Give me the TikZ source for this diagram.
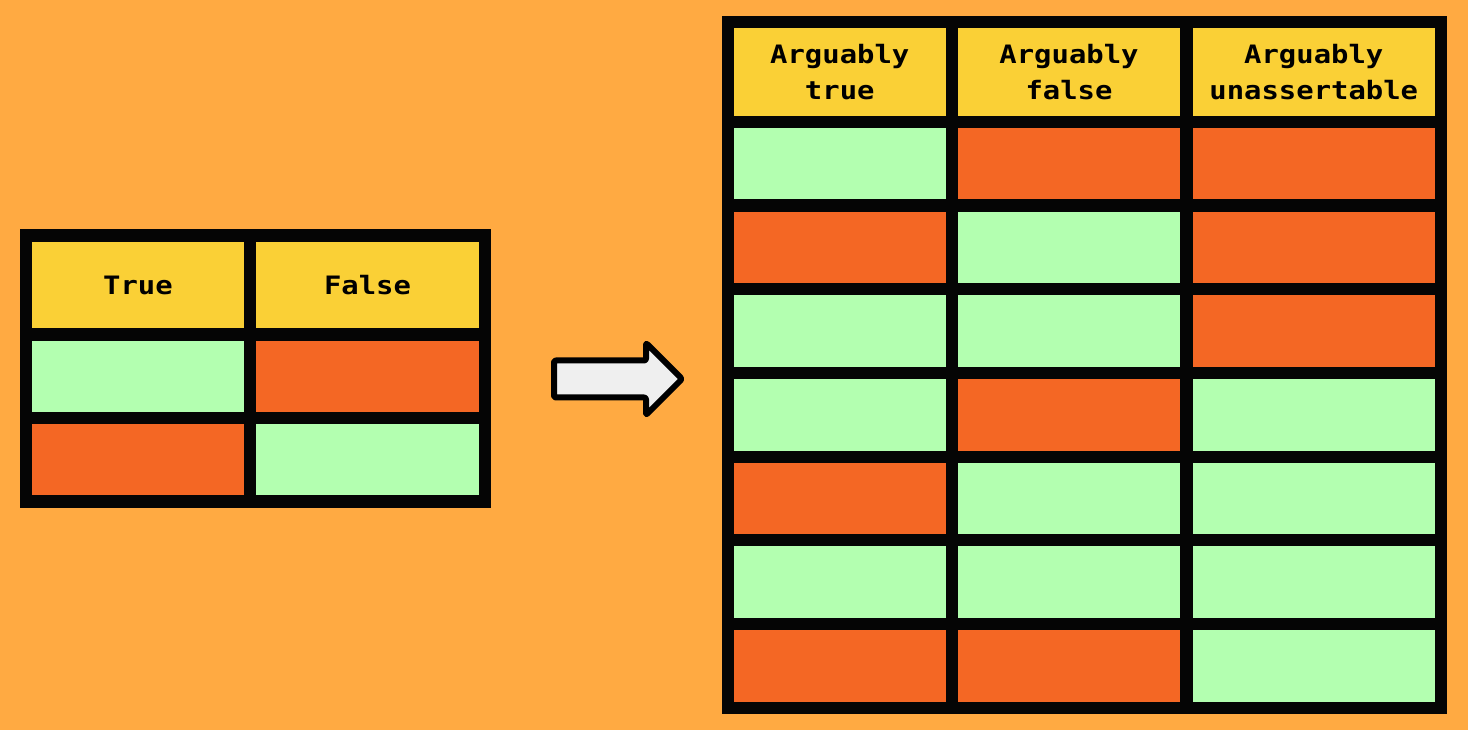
\documentclass[tikz,border=0pt]{standalone}
\usepackage{fontspec}
\newfontfamily\hdrfont[FakeStretch=1.14]{DejaVu Sans Mono Bold}
\definecolor{bgorange}{HTML}{FFAA42}
\definecolor{hdryellow}{HTML}{FAD036}
\definecolor{okgreen}{HTML}{B3FFB0}
\definecolor{badred}{HTML}{F46724}
\definecolor{arrowgray}{HTML}{EFEFEF}
\definecolor{gridblack}{HTML}{050505}
\newcommand\mkcell[7]{\node[cellbox, fill=#6, minimum width={(#4-#2)*0.75pt}, minimum height={(#5-#3)*0.75pt}] (#1) at ({(#2+#4)/2},{(#3+#5)/2}) {#7};}
\begin{document}
\begin{tikzpicture}[x=0.75pt,y=-0.75pt,
  cellbox/.style={inner sep=0pt, outer sep=0pt, draw=none, align=center,
    font=\hdrfont\fontsize{19}{27}\selectfont, text=black},
  framebox/.style={fill=gridblack, draw=none},
  bigarrow/.style={draw=black, fill=arrowgray, line width=4.5pt, line join=round, rounded corners=1.5pt}]
\fill[bgorange] (0,0) rectangle (1468,730);
\useasboundingbox (0,0) rectangle (1468,730);
% left table
\fill[framebox] (20,229) rectangle (491,508);
\mkcell{lh1}{32}{241.7}{244}{328.3}{hdryellow}{True}
\mkcell{lh2}{256}{241.7}{479}{328.3}{hdryellow}{False}
\mkcell{l11}{32}{341}{244}{412}{okgreen}{}
\mkcell{l12}{256}{341}{479}{412}{badred}{}
\mkcell{l21}{32}{424.3}{244}{495.3}{badred}{}
\mkcell{l22}{256}{424.3}{479}{495.3}{okgreen}{}
% arrow
\draw[bigarrow] (554,360.5) -- (646,360.5) -- (646,343) -- (682,379) -- (646,415) -- (646,397.5) -- (554,397.5) -- cycle;
% right table
\fill[framebox] (722,16) rectangle (1447,714);
\mkcell{rh1}{734}{28.3}{945.5}{116.3}{hdryellow}{Arguably\\true}
\mkcell{rh2}{958}{28.3}{1180}{116.3}{hdryellow}{Arguably\\false}
\mkcell{rh3}{1192.5}{28.3}{1435}{116.3}{hdryellow}{Arguably\\unassertable}
\foreach \r/\ca/\cb/\cc in {0/okgreen/badred/badred, 1/badred/okgreen/badred, 2/okgreen/okgreen/badred,
    3/okgreen/badred/okgreen, 4/badred/okgreen/okgreen, 5/okgreen/okgreen/okgreen, 6/badred/badred/okgreen}{
  \pgfmathsetmacro\yt{128+\r*83.67}
  \pgfmathsetmacro\yb{\yt+71.5}
  \mkcell{r\r a}{734}{\yt}{945.5}{\yb}{\ca}{}
  \mkcell{r\r b}{958}{\yt}{1180}{\yb}{\cb}{}
  \mkcell{r\r c}{1192.5}{\yt}{1435}{\yb}{\cc}{}
}
\end{tikzpicture}
\end{document}
